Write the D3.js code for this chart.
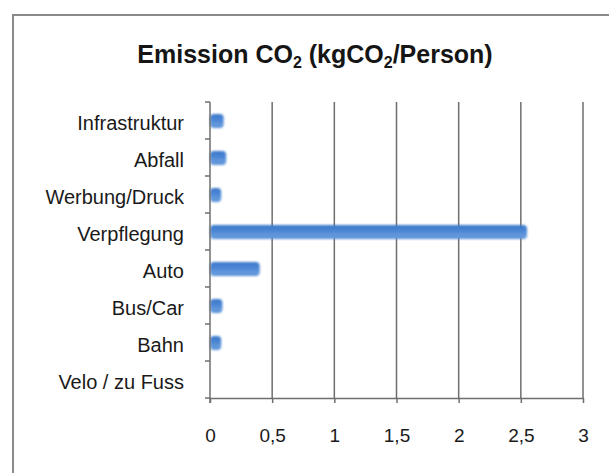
<!DOCTYPE html>
<html>
<head>
<meta charset="utf-8">
<script src="https://cdn.jsdelivr.net/npm/d3@7"></script>
<style>
  html, body { margin: 0; padding: 0; background: #fff; }
  svg { display: block; font-family: "Liberation Sans", Arial, Helvetica, sans-serif; }
</style>
</head>
<body>
<svg id="chart" width="609" height="473"></svg>
<script>
// Emission per person by category (kg CO2)
const categories = ["Infrastruktur", "Abfall", "Werbung/Druck", "Verpflegung", "Auto", "Bus/Car", "Bahn", "Velo / zu Fuss"];
const values = [0.11, 0.13, 0.09, 2.55, 0.40, 0.10, 0.09, 0];
const xTicks = [0, 0.5, 1, 1.5, 2, 2.5, 3];
const xTickLabels = ["0", "0,5", "1", "1,5", "2", "2,5", "3"];

const svg = d3.select("#chart");
const W = 609, H = 473;
const margin = { left: 210, right: 26, top: 102, bottom: 75 };

// outer frame
svg.append("rect")
  .attr("x", 13).attr("y", 15)
  .attr("width", W + 20).attr("height", H + 20)
  .attr("fill", "#fff")
  .attr("stroke", "#8a8a8a").attr("stroke-width", 2);

// title with subscripts
const title = svg.append("text")
  .attr("x", 315).attr("y", 63)
  .attr("text-anchor", "middle")
  .attr("font-size", 25).attr("font-weight", "bold").attr("fill", "#151515");
title.append("tspan").text("Emission CO");
title.append("tspan").attr("font-size", 16).attr("dy", 5).text("2");
title.append("tspan").attr("dy", -5).text(" (kgCO");
title.append("tspan").attr("font-size", 16).attr("dy", 5).text("2");
title.append("tspan").attr("dy", -5).text("/Person)");

const x = d3.scaleLinear().domain([0, 3]).range([margin.left, W - margin.right]);
const y = d3.scaleBand().domain(categories).range([margin.top, H - margin.bottom]);

const defs = svg.append("defs");
const grad = defs.append("linearGradient").attr("id", "barGrad")
  .attr("x1", 0).attr("y1", 0).attr("x2", 0).attr("y2", 1);
grad.append("stop").attr("offset", "0%").attr("stop-color", "#3a78c9");
grad.append("stop").attr("offset", "40%").attr("stop-color", "#4a86d4");
grad.append("stop").attr("offset", "75%").attr("stop-color", "#6499dc");
grad.append("stop").attr("offset", "100%").attr("stop-color", "#5890d6");
defs.append("filter").attr("id", "soft")
  .append("feGaussianBlur").attr("stdDeviation", 0.8);

// vertical gridlines (excluding zero, drawn as the axis)
svg.append("g").selectAll("line")
  .data(xTicks.slice(1))
  .join("line")
  .attr("x1", d => x(d)).attr("x2", d => x(d))
  .attr("y1", margin.top).attr("y2", H - margin.bottom)
  .attr("stroke", "#6e6e6e").attr("stroke-width", 1.5);

// bars
const barH = 14;
svg.append("g").attr("filter", "url(#soft)").selectAll("rect")
  .data(values.map((v, i) => ({ c: categories[i], v })).filter(d => d.v > 0))
  .join("rect")
  .attr("x", x(0))
  .attr("y", d => y(d.c) + y.bandwidth() / 2 - barH / 2 + 0.5)
  .attr("width", d => x(d.v) - x(0))
  .attr("height", barH)
  .attr("rx", 4)
  .attr("fill", "url(#barGrad)");

// bottom axis
const xAxis = d3.axisBottom(x)
  .tickValues(xTicks)
  .tickFormat((d, i) => xTickLabels[i])
  .tickSize(5).tickSizeOuter(0).tickPadding(26);
const gx = svg.append("g").attr("transform", `translate(0,${H - margin.bottom})`).call(xAxis);
gx.select(".domain").attr("stroke", "#6e6e6e").attr("stroke-width", 1.5);
gx.selectAll(".tick line").attr("stroke", "#6e6e6e").attr("stroke-width", 1.5);
gx.selectAll(".tick text").attr("font-size", 19).attr("fill", "#1a1a1a")
  .attr("font-family", "'Liberation Sans', Arial, sans-serif");

// left axis: ticks at band boundaries
const bounds = d3.range(categories.length + 1).map(i => margin.top + i * y.step());
const gy = svg.append("g");
gy.append("line")
  .attr("x1", x(0)).attr("x2", x(0))
  .attr("y1", margin.top).attr("y2", H - margin.bottom + 5)
  .attr("stroke", "#6e6e6e").attr("stroke-width", 1.5);
gy.selectAll("line.tk").data(bounds).join("line").attr("class", "tk")
  .attr("x1", x(0) - 5).attr("x2", x(0))
  .attr("y1", d => d).attr("y2", d => d)
  .attr("stroke", "#6e6e6e").attr("stroke-width", 1.5);
gy.selectAll("text").data(categories).join("text")
  .attr("x", 184)
  .attr("y", d => y(d) + y.bandwidth() / 2 + 2)
  .attr("dy", "0.35em")
  .attr("text-anchor", "end")
  .attr("font-size", 20).attr("fill", "#1a1a1a")
  .text(d => d);
</script>
</body>
</html>
